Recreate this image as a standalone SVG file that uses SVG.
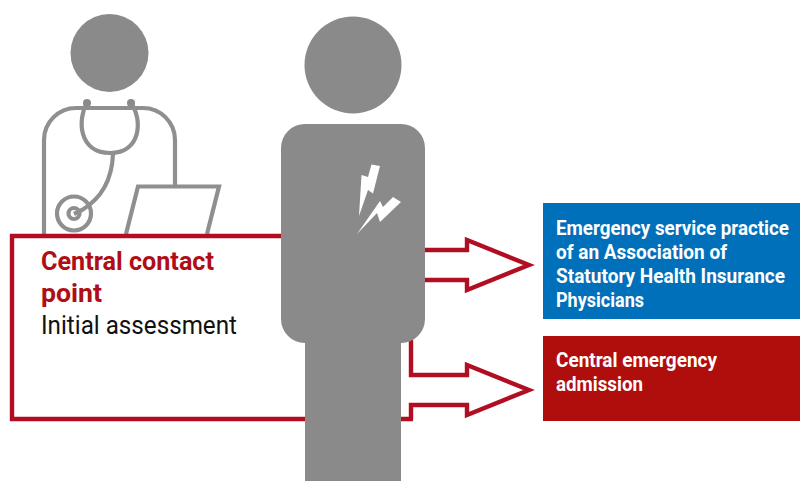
<svg xmlns="http://www.w3.org/2000/svg" width="800" height="481" viewBox="0 0 800 481">
<style>
.g{fill:#8a8a8a}
.gl{fill:none;stroke:#8f8f8f;stroke-width:4.2}
.r{fill:none;stroke:#b20e23;stroke-width:4.4}
text{font-family:"Roboto","Open Sans",sans-serif;font-variant-ligatures:none}
.b{font-weight:700;font-size:19.500px;fill:#fff}
.h{font-weight:700;font-size:25px;fill:#b00d14}
.n{font-size:25.500px;fill:#111}
</style>
<rect width="800" height="481" fill="#fff"/>
<g id="doctor">
<circle class="g" cx="109.500" cy="53" r="39"/>
<path class="gl" d="M44 234V140A32 32 0 0 1 76 108H143A32 32 0 0 1 175 140V186"/>
<path class="gl" d="M87 103C77 120 79 153 110 153C141 153 143 120 131 103"/>
<circle class="g" cx="87" cy="103" r="4"/>
<circle class="g" cx="131" cy="103" r="4"/>
<path class="gl" d="M113 154C112 180 102 198 82 210L74 214"/>
<circle class="gl" cx="74" cy="213.500" r="17"/>
<circle class="gl" cx="74" cy="213.500" r="5.500"/>
<path class="gl" d="M126 234L138 186.500H219L207 234"/>
</g>
<g id="connectors">
<path class="r" d="M425 250H467V240L529 265L467 290V280H425"/>
<path class="r" d="M411 340V375H467V365L529 390L467 415V405H411V419"/>
</g>
<g id="contact-point">
<path class="r" d="M285 236H12V419H413"/>
<text class="h" x="41" y="270" textLength="173" lengthAdjust="spacingAndGlyphs">Central contact</text>
<text class="h" x="41" y="302" textLength="61" lengthAdjust="spacingAndGlyphs">point</text>
<text class="n" x="41" y="334" textLength="196" lengthAdjust="spacingAndGlyphs">Initial assessment</text>
</g>
<g id="patient">
<circle class="g" cx="353" cy="65" r="48.500"/>
<path class="g" d="M305 124H401A24 24 0 0 1 425 148V319A24 24 0 0 1 401 343V481H305V343A24 24 0 0 1 281 319V148A24 24 0 0 1 305 124Z"/>
<path fill="#fff" d="M371.500 164.500L380 166L373 193.500L368 190L359 216L361.500 175L368 177Z"/>
<path fill="#fff" d="M393 197L401 202L380 222L377 213L357 234L380 201L383 207Z"/>
</g>
<g id="practice">
<rect x="543" y="203" width="257" height="116" fill="#0070ba"/>
<text class="b" x="556" y="235" textLength="233" lengthAdjust="spacingAndGlyphs">Emergency service practice</text>
<text class="b" x="556" y="259" textLength="171" lengthAdjust="spacingAndGlyphs">of an Association of</text>
<text class="b" x="556" y="283" textLength="229" lengthAdjust="spacingAndGlyphs">Statutory Health Insurance</text>
<text class="b" x="556" y="307" textLength="88" lengthAdjust="spacingAndGlyphs">Physicians</text>
</g>
<g id="admission">
<rect x="543" y="336" width="257" height="85" fill="#b00d0d"/>
<text class="b" x="556" y="367" textLength="161" lengthAdjust="spacingAndGlyphs">Central emergency</text>
<text class="b" x="556" y="391" textLength="87" lengthAdjust="spacingAndGlyphs">admission</text>
</g>
</svg>
